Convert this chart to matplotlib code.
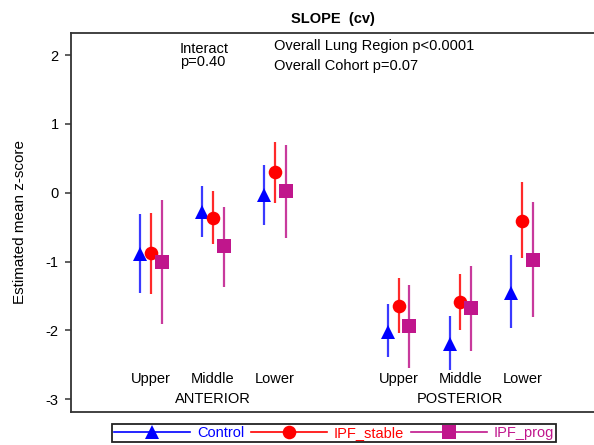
import matplotlib
matplotlib.use("Agg")
import matplotlib.pyplot as plt
from matplotlib.lines import Line2D

plt.rcParams["font.family"] = ["Liberation Sans", "DejaVu Sans"]
plt.rcParams["axes.unicode_minus"] = False

# Lung regions (anterior block, then posterior block)
regions = ["Upper", "Middle", "Lower", "Upper", "Middle", "Lower"]
region_pos = [1, 2, 3, 5, 6, 7]
blocks = ["ANTERIOR", "POSTERIOR"]

groups = ["Control", "IPF_stable", "IPF_prog"]

# Estimated mean z-score with confidence limits per group
control_mean = [-0.89, -0.28, -0.04, -2.02, -2.19, -1.46]
control_lo = [-1.45, -0.65, -0.47, -2.39, -2.57, -1.97]
control_hi = [-0.31, 0.10, 0.41, -1.61, -1.79, -0.91]

stable_mean = [-0.88, -0.36, 0.30, -1.64, -1.59, -0.41]
stable_lo = [-1.47, -0.74, -0.15, -2.04, -1.99, -0.95]
stable_hi = [-0.29, 0.03, 0.74, -1.24, -1.18, 0.15]

prog_mean = [-1.01, -0.78, 0.02, -1.94, -1.68, -0.97]
prog_lo = [-1.91, -1.37, -0.66, -2.55, -2.30, -1.80]
prog_hi = [-0.11, -0.20, 0.70, -1.34, -1.07, -0.14]

series = [
    (control_mean, control_lo, control_hi, "#0000ff", "#3a3aff", "^", 10.5, -0.175),
    (stable_mean, stable_lo, stable_hi, "#ff0000", "#ff2a2a", "o", 9.8, 0.0),
    (prog_mean, prog_lo, prog_hi, "#c0168c", "#c83a9c", "s", 9.5, 0.175),
]

fig = plt.figure(figsize=(5.94, 4.45), dpi=100)
ax = fig.add_axes([71 / 594, 33.3 / 445, 1 - 71 / 594, 379.2 / 445])

for mean, lo, hi, col, barcol, mk, ms, off in series:
    xs = [p + off for p in region_pos]
    ax.vlines(xs, lo, hi, colors=barcol, linewidth=1.6, zorder=2)
    ax.plot(xs, mean, linestyle="none", marker=mk, markersize=ms,
            color=col, markeredgewidth=0, zorder=3)

ax.set_xlim(-0.292, 8.158)
ax.set_ylim(-3.18, 2.327)
ax.set_yticks([-3, -2, -1, 0, 1, 2])
ax.set_xticks([])
ax.tick_params(axis="y", direction="out", length=4, width=1.1,
               labelsize=10.5, pad=5, color="#333333")
ax.spines["right"].set_visible(False)
for s in ["left", "top", "bottom"]:
    ax.spines[s].set_linewidth(1.3)
    ax.spines[s].set_color("#333333")

ax.set_ylabel("Estimated mean z-score", fontsize=11, labelpad=13)
ax.set_title("SLOPE  (cv)", fontsize=10.5, fontweight="bold", pad=7)

# Region and block labels under the marks
for p, r in zip(region_pos, regions):
    ax.text(p, -2.705, r, ha="center", va="center", fontsize=10.5)
ax.text(2, -2.996, blocks[0], ha="center", va="center", fontsize=10.5)
ax.text(6, -2.996, blocks[1], ha="center", va="center", fontsize=10.5)

# Test results
ax.text(0.208, 0.974, "Interact\np=0.40", transform=ax.transAxes,
        ha="left", va="top", fontsize=10.5, linespacing=0.92)
ax.text(0.388, 0.982, "Overall Lung Region p<0.0001\nOverall Cohort p=0.07",
        transform=ax.transAxes, ha="left", va="top", fontsize=10.5,
        linespacing=1.5)

handles = [
    Line2D([], [], color="#0000ff", marker="^", markersize=10.5, markeredgewidth=0, linewidth=1.2),
    Line2D([], [], color="#ff0000", marker="o", markersize=9.8, markeredgewidth=0, linewidth=1.2),
    Line2D([], [], color="#c0168c", marker="s", markersize=9.5, markeredgewidth=0, linewidth=1.2),
]
leg = fig.legend(handles, groups, loc="center", bbox_to_anchor=(334 / 594, 1 - 433 / 445),
                 ncol=3, fontsize=10.5, handlelength=5.2, handletextpad=0.5,
                 columnspacing=0.45, borderpad=0.15, fancybox=False,
                 edgecolor="#222222", framealpha=1, shadow=False)
leg.get_frame().set_linewidth(1.3)
for txt, c in zip(leg.get_texts(), ["#0000ff", "#ff0000", "#c0168c"]):
    txt.set_color(c)

fig.savefig("out.png", dpi=100)
